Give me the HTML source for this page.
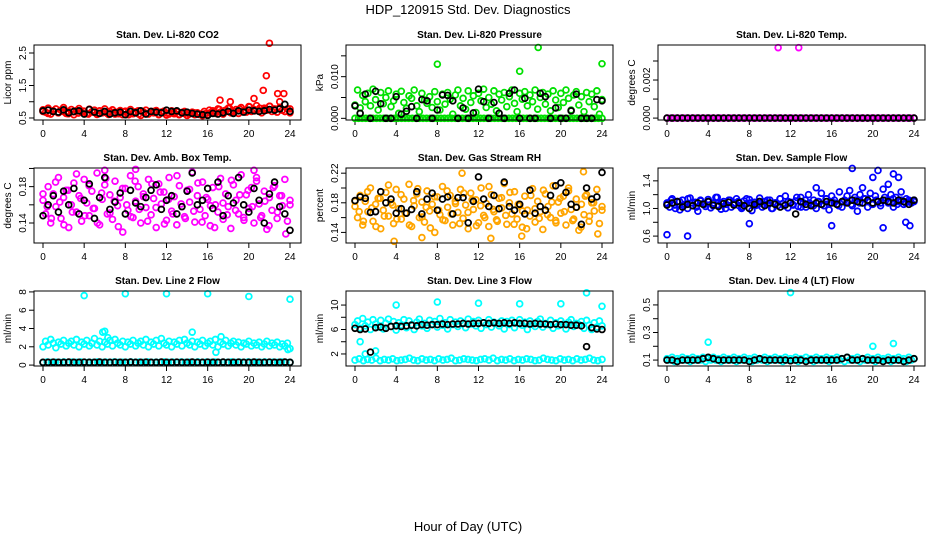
<!DOCTYPE html>
<html><head><meta charset="utf-8">
<style>
body{margin:0;background:#fff;}
svg{display:block;font-family:"Liberation Sans",Arial,sans-serif;}
</style></head>
<body>
<svg id="chart" width="936" height="540" viewBox="0 0 936 540" xmlns="http://www.w3.org/2000/svg">
<rect x="0" y="0" width="936" height="540" fill="#fff"/>
<text x="468" y="14" font-size="13" text-anchor="middle">HDP_120915  Std. Dev. Diagnostics</text>
<text x="468" y="531" font-size="13" text-anchor="middle">Hour of Day (UTC)</text>
<g id="panels"></g>
</svg>
<script>
const xTicks=[0,4,8,12,16,20,24];
const titles=["Stan. Dev. Li-820 CO2","Stan. Dev. Li-820 Pressure","Stan. Dev. Li-820 Temp.","Stan. Dev. Amb. Box Temp.","Stan. Dev. Gas Stream RH","Stan. Dev. Sample Flow","Stan. Dev. Line 2 Flow","Stan. Dev. Line 3 Flow","Stan. Dev. Line 4 (LT) Flow"];
const yLabels=["Licor ppm","kPa","degrees C","degrees C","percent","ml/min","ml/min","ml/min","ml/min"];
const yMins=[0.438,-0.0004,-0.0001,0.118,0.1257,0.5,-0.1,0.03,0.057];
const yMaxs=[2.746,0.0176,0.00384,0.2005,0.227,1.586,8.1,12.3,0.601];
const yTickVals=[[0.5,1.0,1.5,2.0,2.5],[0,0.005,0.010,0.015],[0,0.001,0.002,0.003],[0.14,0.16,0.18,0.20],[0.14,0.16,0.18,0.20,0.22],[0.6,0.8,1.0,1.2,1.4],[0,2,4,6,8],[2,4,6,8,10],[0.1,0.2,0.3,0.4,0.5]];
const yTickText=[["0.5","","1.5","","2.5"],["0.000","","0.010",""],["0.000","","0.002",""],["0.14","","0.18",""],["0.14","","0.18","","0.22"],["0.6","","1.0","","1.4"],["0","2","4","6","8"],["2","","6","","10"],["0.1","","0.3","","0.5"]];
const colors=["#ff0000","#00e000","#ff00ff","#ff00ff","#ffa500","#0000ff","#00ffff","#00ffff","#00ffff"];

const p1Col=[0.75,0.68,0.80,0.62,0.72,0.78,0.66,0.74,0.82,0.64,0.70,0.76,0.60,0.73,0.79,0.67,0.71,0.63,0.77,0.69,0.74,0.61,0.72,0.66,0.78,0.64,0.70,0.75,0.62,0.68,0.73,0.60,0.71,0.65,0.76,0.63,0.69,0.72,0.58,0.67,0.74,0.62,0.70,0.66,0.73,0.60,0.68,0.71,0.59,0.65,0.72,0.63,0.69,0.61,0.67,0.70,0.58,0.64,0.68,0.60,0.66,0.62,0.57,0.63,0.60,0.66,0.72,0.64,0.78,0.68,0.62,0.74,0.80,0.66,0.70,0.76,0.64,0.82,0.72,0.68,0.85,0.70,0.76,0.88,0.72,0.66,0.80,0.74,0.86,0.70,0.78,0.68,0.82,0.74,0.70,0.78,0.66];
const p1Col2=[0.70,0.64,0.72,0.66,0.70,0.63,0.69,0.65,0.71,0.62,0.68,0.64,0.70,0.61,0.67,0.63,0.69,0.60,0.66,0.62,0.68,0.64,0.70,0.61,0.65,0.62,0.67,0.60,0.64,0.62,0.66,0.61,0.70,0.74,0.68,0.76,0.72,0.80,0.70,0.78,0.74,0.84,0.72,0.80,0.76,0.86,0.74,0.82,0.70,0.78];
const p1Blk=[0.72,0.74,0.70,0.68,0.75,0.66,0.70,0.72,0.62,0.76,0.68,0.64,0.70,0.62,0.66,0.68,0.60,0.70,0.66,0.72,0.62,0.70,0.68,0.66,0.74,0.70,0.72,0.66,0.68,0.64,0.62,0.60,0.58,0.64,0.62,0.66,0.70,0.64,0.72,0.68,0.74,0.72,0.70,0.72,0.76,0.74,0.78,0.92,0.70];
const p1Out=[[22,2.8],[21.7,1.8],[21.4,1.35],[23.4,1.25],[22.8,1.25],[17.2,1.05],[18.2,1.0],[20.5,1.1],[23,1.0]];

const p2Col=[.0032,.0068,.0025,.0055,.0040,.0060,.0030,.0070,.0045,.0020,.0062,.0035,.0050,.0066,.0028,.0042,.0058,.0012,.0065,.0038,.0024,.0054,.0048,.0068,.0030,.0016,.0060,.0044,.0036,.0052,.0026,.0064,.0040,.0020,.0058,.0034,.0062,.0046,.0010,.0056,.0068,.0030,.0048,.0022,.0066,.0038,.0054,.0014,.0060,.0042,.0070,.0026,.0050,.0034,.0066,.0018,.0058,.0044,.0062,.0028,.0052,.0068,.0036,.0016,.0060,.0046,.0064,.0030,.0056,.0040,.0068,.0022,.0050,.0062,.0034,.0058,.0018,.0066,.0044,.0026,.0060,.0038,.0068,.0048,.0020,.0056,.0064,.0032,.0052,.0016,.0062,.0040,.0058,.0028,.0066,.0010,.0045];
const p2Col2=[0,0,0,0,0,0,0,0,0,0,0,0,0,0,0,0,0,0,0,0,0,0,0,0,0,0,0,0,0,0,0,0,0,0,0,0,0,0,0,0,0,0,0,0,0,0,0,0,0,0,0,0,0,0,0,0,0,0,0,0,0,0,0,0,0,0,0,0,0,0];
const p2Blk=[0.0030,0.0012,0.0058,0,0.0065,0.0035,0,0,0.0052,0.0010,0.0017,0.0028,0,0.0045,0.0042,0,0.0020,0.0056,0.0055,0.0042,0,0.0025,0,0.0013,0.0070,0.0040,0,0.0038,0.0012,0,0.0060,0.0068,0,0.0048,0,0,0.0060,0.0052,0,0.0025,0,0,0.0018,0.0058,0,0,0,0.0045,0.0042];
const p2Out=[[8.0,.0130],[16,.0113],[17.8,.0170],[24,.0131]];

const p3Col=[0,0,0,0,0,0,0,0,0,0,0,0,0,0,0,0,0,0,0,0,0,0,0,0,0,0,0,0,0,0,0,0,0,0,0,0,0,0,0,0,0,0,0,0,0,0,0,0,0,0,0,0,0,0,0,0,0,0,0,0,0,0,0,0,0,0,0,0,0,0];
const p3Col2=[];
const p3Blk=[0,0,0,0,0,0,0,0,0,0,0,0,0,0,0,0,0,0,0,0,0,0,0,0,0,0,0,0,0,0,0,0,0,0,0,0,0,0,0,0,0,0,0,0,0,0,0,0,0];
const p3Out=[[10.8,.0037],[12.8,.0037]];

const p4Col=[.165,.150,.180,.140,.172,.158,.190,.145,.168,.176,.135,.160,.184,.152,.170,.142,.188,.162,.148,.175,.156,.195,.138,.166,.182,.150,.171,.144,.186,.159,.168,.130,.178,.154,.192,.146,.164,.180,.140,.172,.157,.188,.149,.167,.135,.183,.161,.174,.143,.190,.153,.169,.138,.181,.158,.147,.176,.163,.196,.141,.170,.155,.185,.148,.166,.137,.179,.160,.152,.189,.144,.172,.158,.134,.182,.165,.150,.193,.146,.171,.156,.179,.140,.186,.161,.148,.175,.133,.168,.154,.181,.145,.170,.159,.188,.142,.165];
const p4Col2=[.172,.158,.145,.185,.163,.138,.176,.152,.194,.167,.148,.181,.156,.140,.173,.189,.151,.164,.136,.178,.160,.147,.186,.155,.169,.142,.183,.157,.174,.139,.166,.150,.192,.161,.145,.177,.153,.184,.141,.168,.159,.135,.180,.162,.149,.187,.154,.171,.143,.176,.158,.190,.146,.164,.137,.179,.152,.170,.128,.160];
const p4Blk=[.148,.160,.170,.152,.175,.160,.178,.150,.165,.183,.145,.168,.190,.155,.163,.173,.150,.176,.162,.158,.168,.176,.182,.155,.165,.170,.150,.158,.175,.195,.160,.165,.178,.156,.185,.148,.170,.162,.190,.160,.152,.178,.165,.140,.172,.185,.158,.150,.132];
const p4Out=[[6,.198],[9,.199],[20.5,.198]];

const p5Col=[.175,.160,.190,.150,.182,.168,.200,.155,.178,.186,.145,.170,.194,.162,.180,.152,.198,.172,.158,.185,.166,.205,.148,.176,.192,.160,.181,.154,.196,.169,.178,.140,.188,.164,.202,.156,.174,.190,.150,.182,.167,.198,.159,.177,.145,.193,.171,.184,.153,.200,.163,.179,.148,.191,.168,.157,.186,.173,.206,.151,.180,.165,.195,.158,.176,.147,.189,.170,.162,.199,.154,.182,.168,.144,.192,.175,.160,.203,.156,.181,.166,.189,.150,.196,.171,.158,.185,.143,.178,.164,.191,.155,.180,.169,.198,.152,.175];
const p5Col2=[.182,.168,.155,.195,.173,.148,.186,.162,.204,.177,.158,.191,.166,.150,.183,.199,.161,.174,.146,.188,.170,.157,.196,.165,.179,.152,.193,.167,.184,.149,.176,.160,.202,.171,.155,.187,.163,.194,.151,.178,.169,.145,.190,.172,.159,.197,.164,.181,.153,.186,.168,.200,.156,.174,.147,.189,.162,.180,.138,.170];
const p5Blk=[.183,.188,.186,.167,.168,.195,.180,.185,.166,.172,.166,.171,.195,.165,.185,.193,.170,.185,.188,.165,.187,.187,.153,.182,.215,.185,.175,.190,.172,.208,.175,.170,.178,.165,.197,.166,.175,.170,.190,.203,.207,.194,.178,.174,.151,.200,.185,.188,.221];
const p5Out=[[3.8,.128],[6.5,.133],[13.2,.132],[16.2,.135],[10.4,.220],[22.2,.222]];

const p6Col=[1.08,1.02,1.14,1.05,1.10,0.98,1.12,1.06,1.00,1.15,1.04,1.09,0.96,1.11,1.07,1.03,1.13,1.01,1.08,1.16,1.05,0.99,1.10,1.06,1.12,1.02,1.08,1.14,1.04,1.00,1.11,1.07,1.13,0.97,1.09,1.05,1.15,1.02,1.10,1.06,1.12,1.00,1.08,1.04,1.14,1.07,1.18,1.01,1.09,1.05,1.11,1.03,1.16,1.08,1.02,1.20,1.06,1.12,1.00,1.10,1.22,1.04,1.14,0.98,1.18,1.08,1.06,1.24,1.02,1.12,1.10,1.26,1.04,1.16,0.96,1.20,1.08,1.14,1.02,1.22,1.06,1.18,1.10,1.04,1.28,1.12,1.08,1.20,1.02,1.16,1.10,1.24,1.06,1.14,1.12,1.08,1.10];
const p6Col2=[1.06,1.12,1.00,1.10,1.04,1.14,1.08,1.02,1.12,1.06,1.10,1.04,1.16,1.08,1.00,1.12,1.06,1.10,1.02,1.14,1.08,1.04,1.10,1.06,1.12,1.00,1.08,1.14,1.04,1.10,1.06,1.16,1.02,1.12,1.08,1.04,1.10,1.06,1.14,1.08,1.12,1.04,1.10,1.18,1.06,1.12,1.08,1.14,1.10,1.06,1.12,1.08,1.16,1.10,1.14,1.06,1.12,1.08,1.10,1.12];
const p6Blk=[1.05,1.08,1.10,1.02,1.06,1.04,1.08,1.06,1.10,1.05,1.03,1.07,1.09,1.05,1.08,1.04,1.00,1.06,1.10,1.04,1.08,1.06,1.02,1.05,1.08,0.92,1.10,1.06,1.04,1.08,1.06,1.10,1.08,1.06,1.10,1.08,1.12,1.10,1.08,1.12,1.08,1.10,1.12,1.10,1.08,1.12,1.10,1.06,1.12];
const p6Out=[[0,0.62],[2,0.6],[8,0.78],[16,0.75],[18,1.58],[20,1.45],[20.5,1.55],[21,0.72],[22,1.5],[22.5,1.45],[23.2,0.8],[23.6,0.75],[19,1.3],[14.5,1.3],[21.5,1.35]];

const p7Col=[2.0,2.6,2.2,2.8,2.4,1.9,2.5,2.3,2.7,2.1,2.4,2.6,2.2,2.8,2.0,2.5,2.3,2.7,2.1,2.4,2.9,2.2,2.6,2.0,2.5,2.3,2.7,2.1,2.8,2.4,2.2,2.6,2.0,2.5,2.3,2.7,2.1,2.4,2.6,2.2,2.8,2.0,2.5,2.3,2.7,2.1,2.9,2.4,2.2,2.6,2.0,2.5,2.3,2.7,2.1,2.8,2.4,2.2,2.6,2.0,2.5,2.3,2.7,2.1,2.4,2.6,2.2,2.8,2.0,2.5,2.3,2.7,2.1,2.4,2.6,2.2,2.5,2.0,2.4,2.3,2.6,2.1,2.4,2.2,2.5,2.0,2.3,2.6,2.1,2.4,2.2,2.5,2.0,2.3,2.1,2.4,1.8];
const p7Col2=[0.3,0.35,0.3,0.32,0.3,0.35,0.3,0.33,0.3,0.35,0.3,0.32,0.3,0.35,0.3,0.33,0.3,0.35,0.3,0.32,0.3,0.35,0.3,0.33,0.3,0.35,0.3,0.32,0.3,0.35,0.3,0.33,0.3,0.35,0.3,0.32,0.3,0.35,0.3,0.33,0.3,0.35,0.3,0.32,0.3,0.35,0.3,0.33,0.3,0.35,0.3,0.32,0.3,0.35,0.3,0.33,0.3,0.35,0.3,0.3];
const p7Blk=[0.3,0.3,0.32,0.3,0.3,0.33,0.3,0.3,0.32,0.3,0.3,0.33,0.3,0.3,0.32,0.3,0.3,0.33,0.3,0.3,0.32,0.3,0.3,0.33,0.3,0.3,0.32,0.3,0.3,0.33,0.3,0.3,0.32,0.3,0.3,0.33,0.3,0.3,0.32,0.3,0.3,0.33,0.3,0.3,0.32,0.3,0.3,0.33,0.3];
const p7Out=[[4,7.6],[8,7.8],[12,7.8],[16,7.8],[20,7.5],[24,7.2],[5.8,3.6],[6,3.7],[6.3,3.0],[14.5,3.6],[17.3,3.1],[16.8,1.4],[23.8,1.7]];

const p8Col=[6.8,7.4,6.2,7.8,6.6,7.2,6.0,7.6,6.9,6.4,7.5,6.1,7.0,7.7,6.5,7.3,5.9,7.1,6.7,7.6,6.3,7.4,6.8,6.0,7.2,7.7,6.6,7.0,6.2,7.5,6.9,7.3,6.4,7.8,6.7,7.1,6.1,7.6,6.8,7.2,6.5,7.4,7.0,6.3,7.7,6.9,7.3,6.6,7.5,6.2,7.1,6.8,7.6,6.4,7.2,7.0,6.6,7.4,6.1,7.3,6.8,7.5,6.3,7.0,7.6,6.7,7.2,6.0,7.4,6.9,6.5,7.3,7.7,6.4,7.0,6.8,7.5,6.2,7.1,6.6,7.4,6.9,6.1,7.2,7.6,6.5,7.0,6.8,7.3,6.2,7.5,6.7,6.0,7.1,6.4,7.4,6.6];
const p8Col2=[1.0,1.2,0.9,1.1,1.0,1.3,0.9,1.1,1.0,1.2,0.9,1.0,1.1,1.3,1.0,0.9,1.2,1.0,1.1,0.9,1.2,1.0,1.1,1.3,0.9,1.0,1.2,1.1,1.0,0.9,1.1,1.2,1.0,1.3,0.9,1.1,1.0,1.2,0.9,1.1,1.0,1.2,1.1,0.9,1.0,1.3,1.1,1.0,0.9,1.2,1.0,1.1,0.9,1.2,1.0,1.1,1.3,1.0,0.9,1.1];
const p8Blk=[6.2,6.0,6.1,2.3,6.3,6.4,6.2,6.5,6.6,6.5,6.6,6.7,6.6,6.8,6.7,6.8,6.8,6.9,6.8,6.9,6.9,7.0,6.9,7.0,7.0,7.1,7.0,7.1,7.0,7.1,7.0,7.1,7.0,7.0,6.9,7.0,6.9,6.9,6.8,6.9,6.8,6.8,6.7,6.7,6.6,3.2,6.3,6.1,6.0];
const p8Out=[[4,10],[8,10.5],[12,10.3],[16,10.2],[20,10.2],[22.5,12],[24,9.8],[0.5,4],[1,2],[2,2.5]];

const p9Col=[0.11,0.10,0.12,0.09,0.11,0.10,0.12,0.10,0.11,0.09,0.12,0.10,0.11,0.10,0.12,0.09,0.11,0.10,0.12,0.10,0.11,0.09,0.12,0.10,0.11,0.10,0.12,0.09,0.11,0.10,0.12,0.10,0.11,0.09,0.12,0.10,0.11,0.10,0.12,0.09,0.11,0.10,0.12,0.10,0.11,0.09,0.12,0.10,0.11,0.10,0.12,0.09,0.11,0.10,0.12,0.10,0.11,0.09,0.12,0.10,0.11,0.10,0.12,0.09,0.11,0.10,0.12,0.10,0.11,0.09,0.12,0.10,0.11,0.10,0.12,0.09,0.11,0.10,0.12,0.10,0.11,0.09,0.12,0.10,0.11,0.10,0.12,0.09,0.11,0.10,0.12,0.10,0.11,0.09,0.12,0.10,0.11];
const p9Col2=[];
const p9Blk=[0.10,0.10,0.09,0.10,0.10,0.10,0.10,0.11,0.12,0.11,0.10,0.10,0.10,0.10,0.10,0.10,0.09,0.10,0.11,0.10,0.10,0.10,0.10,0.10,0.095,0.10,0.10,0.09,0.10,0.10,0.10,0.10,0.10,0.10,0.11,0.12,0.10,0.10,0.11,0.10,0.10,0.10,0.09,0.10,0.10,0.10,0.09,0.10,0.11];
const p9Out=[[4,0.23],[12,0.59],[20,0.2],[22,0.22]];

const colSeries=[p1Col,p2Col,p3Col,p4Col,p5Col,p6Col,p7Col,p8Col,p9Col];
const colSeries2=[p1Col2,p2Col2,p3Col2,p4Col2,p5Col2,p6Col2,p7Col2,p8Col2,p9Col2];
const blkSeries=[p1Blk,p2Blk,p3Blk,p4Blk,p5Blk,p6Blk,p7Blk,p8Blk,p9Blk];
const outSeries=[p1Out,p2Out,p3Out,p4Out,p5Out,p6Out,p7Out,p8Out,p9Out];

const NS="http://www.w3.org/2000/svg";
const root=document.getElementById('panels');
function mk(tag,attrs,parent){const e=document.createElementNS(NS,tag);for(const k in attrs)e.setAttribute(k,attrs[k]);parent.appendChild(e);return e;}
const PW=267,PH=75,R=2.9,SW=1.8;
for(let p=0;p<9;p++){
  const c=p%3,r=Math.floor(p/3);
  const x0=34+312*c,y0=45+123*r;
  const g=mk('g',{},root);
  
  
  const xs=h=>x0+9+h*(247/24);
  const ys=v=>y0+PH-(v-yMins[p])/(yMaxs[p]-yMins[p])*PH;
  const t=mk('text',{x:x0+PW/2,y:y0-7,'font-size':10,'font-weight':'bold','text-anchor':'middle'},g);
  t.textContent=titles[p];
  
  
  const yl=mk('text',{transform:`translate(${x0-23},${y0+PH/2}) rotate(-90)`,'font-size':10,'text-anchor':'middle'},g);
  yl.textContent=yLabels[p];
  
  
  mk('line',{x1:xs(0),x2:xs(24),y1:y0+PH,y2:y0+PH,stroke:'#000','stroke-width':1},g);
  xTicks.forEach(h=>{
    mk('line',{x1:xs(h),x2:xs(h),y1:y0+PH,y2:y0+PH+5,stroke:'#000'},g);
    const tl=mk('text',{x:xs(h),y:y0+PH+17,'font-size':10,'text-anchor':'middle'},g);
    tl.textContent=h;
    
    
  });
  yTickVals[p].forEach((v,i)=>{
    const y=ys(v);
    mk('line',{x1:x0-5,x2:x0,y1:y,y2:y,stroke:'#000'},g);
    if(yTickText[p][i]){
      const tl=mk('text',{transform:`translate(${x0-8},${y}) rotate(-90)`,'font-size':10,'text-anchor':'middle'},g);
      tl.textContent=yTickText[p][i];
      
      
    }
  });
  const clip=mk('g',{},g);
  const drawPts=(arr,color,name)=>{
    const n=arr.length;
    arr.forEach((v,i)=>{
      const h=n>1?i*24/(n-1):0;
      const m=mk('circle',{cx:xs(h),cy:ys(v),r:R,fill:'none',stroke:color,'stroke-width':SW},clip);
      
      
    });
  };
  drawPts(colSeries[p],colors[p],'series-point');
  drawPts(colSeries2[p],colors[p],'series-point');
  outSeries[p].forEach(o=>{
    const m=mk('circle',{cx:xs(o[0]),cy:ys(o[1]),r:R,fill:'none',stroke:colors[p],'stroke-width':SW},clip);
    
    
  });
  drawPts(blkSeries[p],'#000','hourly-mean-point');
  const box=mk('rect',{x:x0,y:y0,width:PW,height:PH,fill:'none',stroke:'#000','stroke-width':1},g);
  
  
}
</script>
</body></html>
